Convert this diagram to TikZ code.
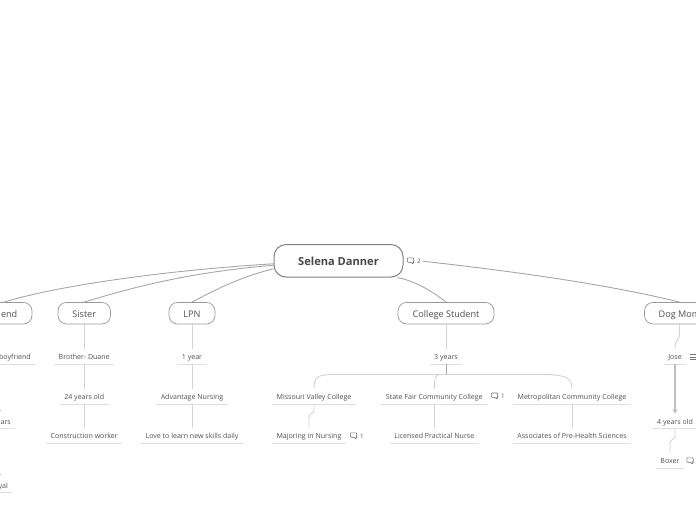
\documentclass[tikz,border=0pt]{standalone}
\usepackage{fontspec}
\setmainfont{Open Sans}
\usepackage{xcolor}
\usetikzlibrary{arrows.meta, positioning, calc}
\definecolor{tinta}{HTML}{505050}
\definecolor{garis}{HTML}{A6A6A6}
\definecolor{cabang}{HTML}{D2D2D2}
\begin{document}
\begin{tikzpicture}[
    x=1pt, y=-1pt,
    pusat/.style={draw=gray, line width=1pt, rounded corners=12pt, fill=white,
                  minimum width=129pt, minimum height=32.5pt, inner sep=0pt,
                  text height=8.5pt, text depth=0pt,
                  font=\fontsize{11.1}{13}\selectfont\bfseries, text=black!72},
    topik/.style={draw=gray!80, line width=.7pt, rounded corners=8.5pt, fill=white,
                  minimum height=21.5pt, inner sep=0pt,
                  text height=7.6pt, text depth=0pt,
                  font=\fontsize{9.1}{11}\selectfont, text=tinta},
    topikteks/.style={anchor=east, inner sep=0pt, text height=7.6pt, text depth=0pt,
                  font=\fontsize{9.1}{11}\selectfont, text=tinta},
    daun/.style={minimum height=15pt, inner sep=0pt, text height=6.2pt, text depth=0pt,
                 font=\fontsize{7.05}{9}\selectfont, text=tinta,
                 append after command={(\tikzlastnode.south west) edge[bawah] (\tikzlastnode.south east)}},
    daunteks/.style={anchor=east, inner sep=0pt, text height=6.2pt, text depth=0pt,
                 font=\fontsize{7.05}{9}\selectfont, text=tinta},
    bawah/.style={draw=black!13, line width=.9pt},
    utama/.style={draw=garis, line width=.9pt},
    hubung/.style={draw=cabang, line width=.9pt},
    angka/.style={inner sep=0pt, font=\fontsize{6.2}{7}\selectfont, text=tinta},
    pics/gelembung/.style={code={
      \draw[gray!90!black, line width=.6pt, line join=round, rounded corners=.8pt]
        (-3.2,-3) -- (3.2,-3) -- (3.2,1.4) -- (2.6,1.4) -- (2.6,3.4) -- (.4,1.4) -- (-3.2,1.4) -- cycle;
    }}
  ]
    \clip (0,0) rectangle (696,520);

    % topik utama
    \node[pusat] (selena) at (338.5,260.8) {Selena Danner};
    \pic at (410.5,260.8) {gelembung};
    \node[angka, anchor=west] (selenajml) at (416.8,261.2) {2};

    \node[topik, minimum width=56pt] (friend) at (4,313.2) {};
    \node[topikteks] (friendteks) at (17.5,313.2) {Friend};
    \node[topik, minimum width=52.5pt] (sister) at (84.2,313.2) {Sister};
    \node[topik, minimum width=46pt] (lpn) at (192,313.2) {LPN};
    \node[topik, minimum width=96pt] (college) at (446,313.2) {College Student};
    \node[topik, minimum width=70pt] (dog) at (679.5,313.2) {Dog Mom};

    % kurva dari pusat
    \draw[utama] ([yshift=-3pt]selena.west) .. controls (170,270) and (60,285) .. (friend.north);
    \draw[utama] ([yshift=-4.5pt]selena.west) .. controls (190,272) and (130,288) .. (sister.north);
    \draw[utama] ([yshift=-8pt]selena.west) .. controls (240,277) and (215,290) .. (lpn.north);
    \draw[utama] ([xshift=-6pt]selena.south east) .. controls (415,281) and (432,291) .. (college.north);
    \draw[utama] ([xshift=2pt]selenajml.east) .. controls (520,272) and (610,285) .. (dog.north);

    % kolom friend
    \node[daun, minimum width=72pt] (pacar) at (-1,356.3) {};
    \node[daunteks] (pacarteks) at (31,356.3) {boyfriend};
    \node[daun, minimum width=32pt] (tahun) at (-1,421) {};
    \node[daunteks] (tahunteks) at (11,421) {years};
    \node[daun, minimum width=26pt] (setia) at (-1,485) {};
    \node[daunteks] (setiateks) at (8,485) {Loyal};
    \draw[hubung, -{Stealth[length=4pt, width=6pt]}] (pacar.south -| tahun.north) -- (tahun.north);
    \draw[hubung, -{Stealth[length=4pt, width=6pt]}] (tahun.south) -- (setia.north);

    % kolom sister
    \node[daun, minimum width=60pt] (duane) at (84.2,356.3) {Brother- Duane};
    \node[daun, minimum width=48.5pt] (umur) at (84.2,396.3) {24 years old};
    \node[daun, minimum width=76pt] (kerja) at (84.2,435.5) {Construction worker};
    \draw[hubung] (sister.south) -- (duane.north);
    \draw[hubung] (duane.south) -- (umur.north);
    \draw[hubung] (umur.south) -- (kerja.north);

    % kolom lpn
    \node[daun, minimum width=29pt] (setahun) at (192,356.3) {1 year};
    \node[daun, minimum width=72pt] (advantage) at (192,396.3) {Advantage Nursing};
    \node[daun, minimum width=102pt] (belajar) at (192,435.5) {Love to learn new skills daily};
    \draw[hubung] (lpn.south) -- (setahun.north);
    \draw[hubung] (setahun.south) -- (advantage.north);
    \draw[hubung] (advantage.south) -- (belajar.north);

    % kolom college
    \node[daun, minimum width=32pt] (tiga) at (446,356.3) {3 years};
    \node[daun, minimum width=84pt] (missouri) at (314,396.3) {Missouri Valley College};
    \node[daun, minimum width=74pt] (majoring) at (309,435.5) {Majoring in Nursing};
    \node[daun, minimum width=106pt] (state) at (434.3,396.3) {State Fair Community College};
    \node[daun, minimum width=89pt] (licensed) at (434.3,435.5) {Licensed Practical Nurse};
    \node[daun, minimum width=118pt] (metro) at (572,396.3) {Metropolitan Community College};
    \node[daun, minimum width=118pt] (associates) at (572,435.5) {Associates of Pre-Health Sciences};
    \coordinate (cabang) at (446,374.5);
    \draw[hubung] (college.south) -- (tiga.north);
    \draw[draw=gray!70, line width=1pt] (tiga.south) -- (cabang);
    \draw[hubung] (cabang) -- (330,374.5) .. controls (317,375) and (314,378) .. (missouri.north);
    \draw[hubung] (cabang) -- (441,374.5) .. controls (436,374.5) and (434.3,376) .. (state.north);
    \draw[hubung] (cabang) -- (546,374.5) .. controls (566,375) and (572,378) .. (metro.north);
    \draw[hubung] (missouri.south) -- (314,411) .. controls (314,414) and (309,412) .. (309,418) -- (majoring.north);
    \draw[hubung] (state.south) -- (licensed.north);
    \draw[hubung] (metro.south) -- (associates.north);
    \pic at (494.5,396) {gelembung};
    \node[angka, anchor=west] (statejml) at (500.8,396.4) {1};
    \pic at (353.5,435.8) {gelembung};
    \node[angka, anchor=west] (majoringjml) at (359.8,436.2) {1};

    % kolom dog
    \node[daun, minimum width=22pt] (jose) at (675,356.3) {Jose};
    \node[daun, minimum width=44pt] (empat) at (675,421) {4 years old};
    \node[daun, minimum width=28pt] (boxer) at (670,460.5) {Boxer};
    \draw[hubung] (dog.south) -- (679.5,333) .. controls (679.5,341) and (675,339) .. (jose.north);
    \draw[draw=black!25, line width=1.4pt, -{Stealth[length=4pt, width=6pt]}] (jose.south) -- (empat.north);
    \draw[hubung] (empat.south) -- (675,436) .. controls (675,441) and (670,437) .. (670,445) -- (boxer.north);
    \pic at (690,460.8) {gelembung};
    \foreach \ybar in {354.3,356.8,359.3}
      \draw[gray!90!black, line width=.6pt] (690,\ybar) -- (696,\ybar);
\end{tikzpicture}
\end{document}
